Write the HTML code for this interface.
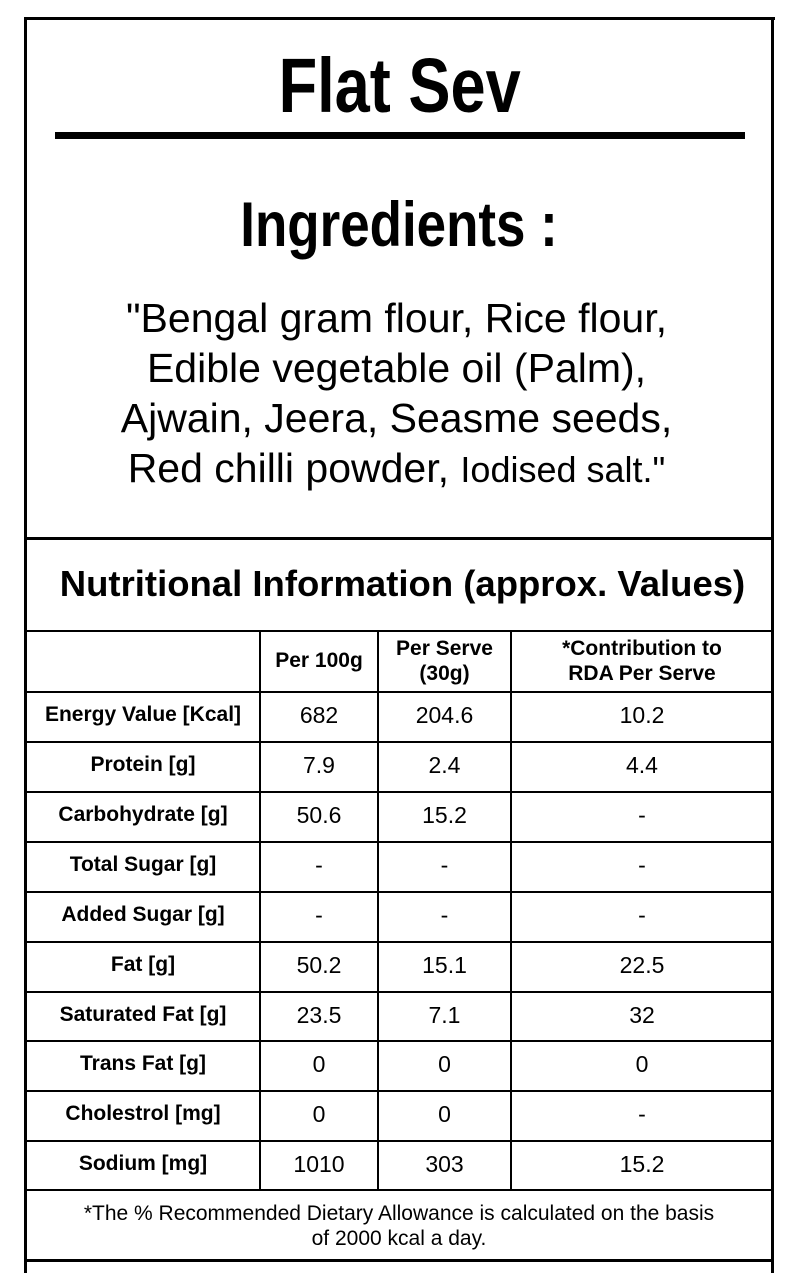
<!DOCTYPE html>
<html><head><style>
*{margin:0;padding:0;box-sizing:border-box}
body{width:793px;height:1273px;background:#fff;position:relative;overflow:hidden;font-family:"Liberation Sans",Arial,sans-serif;color:#000}
.h{position:absolute;background:#000}
.c{position:absolute;text-align:center;display:flex;align-items:center;justify-content:center;line-height:1.15}
.t{position:absolute;left:0;width:793px;text-align:center}
.sx{display:inline-block;font-weight:bold;white-space:nowrap}
</style></head><body>
<div class="h" style="left:24px;top:17px;width:751px;height:3px"></div>
<div class="h" style="left:24px;top:17px;width:3px;height:1256px"></div>
<div class="h" style="left:771px;top:17px;width:3px;height:1256px"></div>
<div class="t" style="top:44px;font-size:77px;line-height:84px;left:3px"><span class="sx" style="transform:scaleX(0.82)">Flat Sev</span></div>
<div class="h" style="left:55px;top:132px;width:690px;height:7px"></div>
<div class="t" style="top:190px;font-size:63px;line-height:70px;left:3px"><span class="sx" style="transform:scaleX(0.84)">Ingredients :</span></div>
<div class="t" style="top:293px;font-size:41px;line-height:50px">"Bengal gram flour, Rice flour,<br>Edible vegetable oil (Palm),<br>Ajwain, Jeera, Seasme seeds,<br>Red chilli powder, <span style="font-size:36px">Iodised salt."</span></div>
<div class="h" style="left:24px;top:537px;width:750px;height:3px"></div>
<div class="h" style="left:24px;top:630px;width:750px;height:2px"></div>
<div class="h" style="left:24px;top:691px;width:750px;height:2px"></div>
<div class="h" style="left:24px;top:741px;width:750px;height:2px"></div>
<div class="h" style="left:24px;top:791px;width:750px;height:2px"></div>
<div class="h" style="left:24px;top:841px;width:750px;height:2px"></div>
<div class="h" style="left:24px;top:891px;width:750px;height:2px"></div>
<div class="h" style="left:24px;top:941px;width:750px;height:2px"></div>
<div class="h" style="left:24px;top:991px;width:750px;height:2px"></div>
<div class="h" style="left:24px;top:1040px;width:750px;height:2px"></div>
<div class="h" style="left:24px;top:1090px;width:750px;height:2px"></div>
<div class="h" style="left:24px;top:1140px;width:750px;height:2px"></div>
<div class="h" style="left:24px;top:1189px;width:750px;height:2px"></div>
<div class="h" style="left:24px;top:1259px;width:750px;height:3px"></div>
<div class="h" style="left:259px;top:631px;width:2px;height:559px"></div>
<div class="h" style="left:377px;top:631px;width:2px;height:559px"></div>
<div class="h" style="left:510px;top:631px;width:2px;height:559px"></div>
<div class="t" style="top:563px;font-size:36.5px;font-weight:bold;line-height:42px;left:6px">Nutritional Information (approx. Values)</div>
<div class="c" style="left:261px;top:632px;width:116px;height:59px;font-weight:bold;font-size:21px">Per 100g</div>
<div class="c" style="left:379px;top:632px;width:131px;height:59px;font-weight:bold;font-size:21px">Per Serve<br>(30g)</div>
<div class="c" style="left:512px;top:632px;width:260px;height:59px;font-weight:bold;font-size:21px">*Contribution to<br>RDA Per Serve</div>
<div id="rows"></div>
<script>
var d=[["Energy Value [Kcal]","682","204.6","10.2"],["Protein [g]","7.9","2.4","4.4"],["Carbohydrate [g]","50.6","15.2","-"],["Total Sugar [g]","-","-","-"],["Added Sugar [g]","-","-","-"],["Fat [g]","50.2","15.1","22.5"],["Saturated Fat [g]","23.5","7.1","32"],["Trans Fat [g]","0","0","0"],["Cholestrol [mg]","0","0","-"],["Sodium [mg]","1010","303","15.2"]];
var tops=[693,743,793,843,893,943,993,1042,1092,1142],h="";
var xs=[[27,232],[261,116],[379,131],[512,260]];
d.forEach(function(r,i){r.forEach(function(v,j){h+='<div class="c" style="left:'+xs[j][0]+'px;top:'+(tops[i]-1)+'px;width:'+xs[j][1]+'px;height:46px;font-size:'+(j?23:21)+'px;'+(j?'':'font-weight:bold')+'">'+v+'</div>';});});
document.getElementById("rows").outerHTML=h;
</script>
<div class="c" style="left:27px;top:1192px;width:744px;height:67px;font-size:21px;line-height:25px">*The % Recommended Dietary Allowance is calculated on the basis<br>of 2000 kcal a day.</div>
</body></html>
